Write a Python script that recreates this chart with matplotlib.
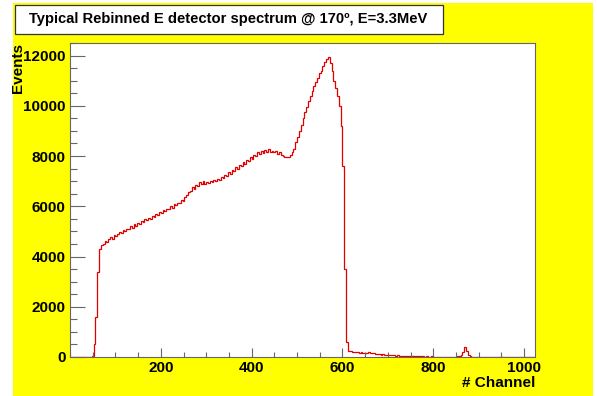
import numpy as np
import matplotlib.pyplot as plt
from matplotlib.patches import Rectangle
from matplotlib.ticker import MultipleLocator, FixedLocator

plt.rcParams['font.family'] = ['Liberation Sans', 'DejaVu Sans']
plt.rcParams['font.weight'] = 'bold'

# histogram: 256 bins of 4 channels each (0..1024)
bin_width = 4
counts = [
    0, 0, 0, 0, 0, 0, 0, 0, 0, 0, 0, 0, 50, 500, 1600, 3400,
    4300, 4450, 4500, 4620, 4580, 4700, 4760, 4700, 4850, 4820, 4900, 4980, 4930, 5050, 5000, 5100,
    5080, 5200, 5150, 5280, 5230, 5350, 5300, 5420, 5380, 5480, 5450, 5550, 5500, 5620, 5580, 5700,
    5650, 5780, 5720, 5850, 5820, 5900, 5880, 6000, 5950, 6080, 6050, 6150, 6120, 6250, 6200, 6350,
    6450, 6550, 6600, 6750, 6700, 6850, 6800, 6950, 6880, 7000, 6900, 6980, 6920, 7020, 6950, 7050,
    7000, 7080, 7050, 7150, 7120, 7250, 7200, 7350, 7300, 7450, 7420, 7550, 7500, 7650, 7600, 7750,
    7700, 7850, 7800, 7950, 7900, 8050, 8000, 8150, 8100, 8200, 8120, 8250, 8150, 8280, 8180, 8220,
    8150, 8200, 8100, 8150, 8050, 8000, 7980, 7950, 7980, 8050, 8150, 8300, 8550, 8750, 9000, 9250,
    9500, 9750, 9950, 10200, 10400, 10600, 10800, 10950, 11100, 11300, 11400, 11600, 11750, 11850, 11950, 11700,
    11400, 11000, 10700, 10400, 10000, 9200, 7600, 3500, 600, 250, 220, 200, 190, 210, 180, 170,
    180, 160, 170, 150, 180, 160, 150, 140, 120, 110, 100, 90, 100, 80, 90, 70,
    80, 60, 70, 50, 60, 50, 40, 50, 40, 30, 40, 30, 30, 20, 30, 20,
    20, 30, 20, 10, 20, 10, 10, 20, 10, 10, 0, 10, 0, 10, 0, 0,
    0, 0, 10, 0, 10, 20, 40, 80, 200, 380, 250, 80, 30, 10, 0, 0,
    0, 0, 0, 0, 0, 0, 0, 0, 0, 0, 0, 0, 0, 0, 0, 0,
    0, 0, 0, 0, 0, 0, 0, 0, 0, 0, 0, 0, 0, 0, 0, 0,
]
edges = np.arange(len(counts) + 1) * bin_width
xticks = [200, 400, 600, 800, 1000]

title = 'Typical Rebinned E detector spectrum @ 170\u00ba, E=3.3MeV'
xlabel = '# Channel'
ylabel = 'Events'

W, H = 597, 396
fig = plt.figure(figsize=(W / 100, H / 100), dpi=100)
fig.patch.set_facecolor('white')

# yellow canvas (behind everything)
fig.patches.append(Rectangle((13 / W, 0), (593 - 13) / W, (396 - 3) / H,
                             transform=fig.transFigure, facecolor='#ffff00',
                             edgecolor='none', zorder=-10))
# title box
fig.patches.append(Rectangle((15 / W, 1 - 34 / H), (443 - 15) / W, (34 - 5) / H,
                             transform=fig.transFigure, facecolor='white',
                             edgecolor='#333333', lw=0.9, zorder=1))
fig.text(228 / W, 1 - 19 / H, title, ha='center', va='center',
         fontsize=10.6, fontweight='bold', zorder=2)

ax = fig.add_axes([70 / W, 1 - 357 / H, (535 - 70) / W, (357 - 43) / H])
ax.set_facecolor('white')
ax.stairs(counts, edges, color='#e00000', lw=0.9)

ax.set_xlim(0, 1024)
ax.set_ylim(0, 12500)
ax.xaxis.set_major_locator(FixedLocator(xticks))
ax.xaxis.set_minor_locator(MultipleLocator(50))
ax.yaxis.set_major_locator(MultipleLocator(2000))
ax.yaxis.set_minor_locator(MultipleLocator(500))

ax.tick_params(axis='y', which='major', direction='in', length=10.5, width=0.8,
               color='#666666', labelsize=11, pad=3)
ax.tick_params(axis='y', which='minor', direction='in', length=5.2, width=0.8,
               color='#666666')
ax.tick_params(axis='x', which='major', direction='in', length=6.8, width=0.8,
               color='#666666', labelsize=11, pad=3)
ax.tick_params(axis='x', which='minor', direction='in', length=3.4, width=0.8,
               color='#666666')
for lab in ax.get_xticklabels() + ax.get_yticklabels():
    lab.set_fontweight('bold')

for s in ax.spines.values():
    s.set_color('#666666')
    s.set_linewidth(0.8)

fig.text(535 / W, 1 - 383 / H, xlabel, ha='right', va='center',
         fontsize=11, fontweight='bold')
fig.text(18 / W, 1 - 43 / H, ylabel, ha='center', va='top', rotation=90,
         fontsize=11, fontweight='bold')

fig.savefig('out.png', dpi=100, facecolor=fig.get_facecolor())
